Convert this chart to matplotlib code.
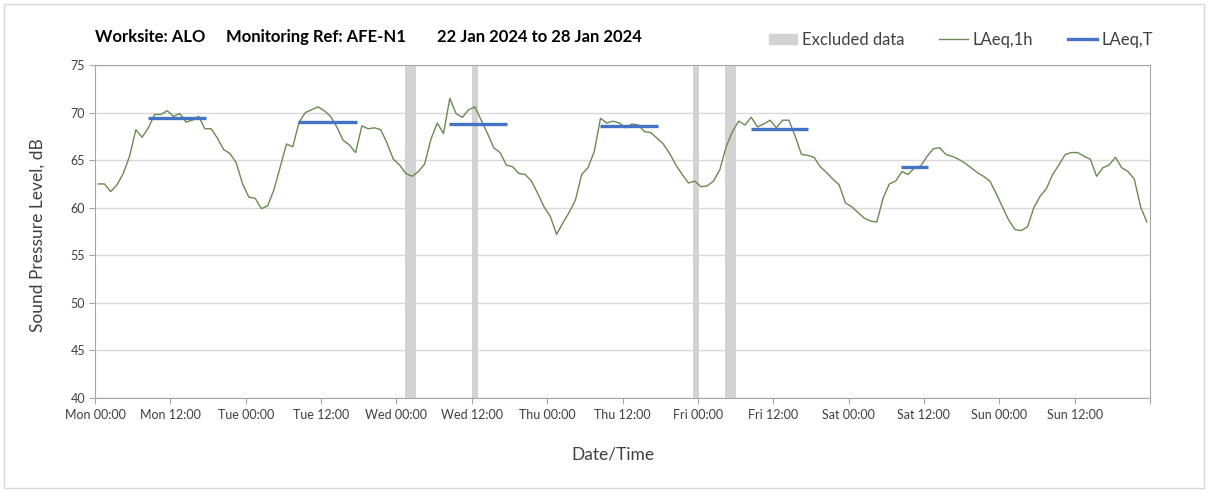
import matplotlib
matplotlib.use("Agg")
import matplotlib.pyplot as plt
from matplotlib.patches import Patch, Rectangle
from matplotlib.lines import Line2D
import numpy as np

plt.rcParams['font.family'] = ['Lato', 'DejaVu Sans']

# hourly LAeq,1h values, Mon 00:00 - Sun 24:00 (plotted at mid-hour)
laeq_1h = [
    62.5, 62.5, 61.7, 62.4, 63.6, 65.4, 68.2, 67.4, 68.4, 69.8, 69.8, 70.2,
    69.6, 69.9, 69.0, 69.2, 69.6, 68.3, 68.3, 67.3, 66.1, 65.7, 64.7, 62.5,
    61.1, 61.0, 59.9, 60.2, 61.9, 64.3, 66.7, 66.4, 69.0, 70.0, 70.3, 70.6,
    70.2, 69.6, 68.5, 67.1, 66.6, 65.8, 68.6, 68.3, 68.4, 68.2, 66.8, 65.1,
    64.5, 63.6, 63.3, 63.8, 64.6, 67.2, 68.9, 67.8, 71.5, 69.9, 69.5, 70.3,
    70.6, 69.2, 67.8, 66.3, 65.8, 64.5, 64.3, 63.6, 63.5, 62.8, 61.5, 60.1,
    59.1, 57.2, 58.4, 59.5, 60.8, 63.5, 64.2, 65.9, 69.4, 68.9, 69.1, 68.9,
    68.4, 68.8, 68.7, 68.0, 67.9, 67.3, 66.7, 65.7, 64.5, 63.5, 62.6, 62.8,
    62.2, 62.3, 62.8, 64.0, 66.4, 68.0, 69.1, 68.7, 69.5, 68.5, 68.8, 69.2,
    68.4, 69.2, 69.2, 67.5, 65.6, 65.5, 65.3, 64.3, 63.7, 63.0, 62.4, 60.5,
    60.1, 59.5, 58.9, 58.6, 58.5, 61.0, 62.5, 62.8, 63.8, 63.5, 64.2, 64.4,
    65.4, 66.2, 66.3, 65.6, 65.4, 65.1, 64.7, 64.2, 63.7, 63.3, 62.8, 61.5,
    60.1, 58.7, 57.7, 57.6, 58.0, 60.0, 61.2, 62.0, 63.5, 64.5, 65.6, 65.8,
    65.8, 65.4, 65.1, 63.3, 64.2, 64.5, 65.3, 64.2, 63.8, 63.0, 60.1, 58.5,
]
hours = np.arange(len(laeq_1h)) + 0.5

# LAeq,T periods (hours from Mon 00:00) and levels
laeq_t_start = [8.4, 32.4, 56.4, 80.4, 104.4, 128.3]
laeq_t_end = [17.7, 41.8, 65.6, 89.7, 113.6, 132.7]
laeq_t = [69.45, 69.05, 68.85, 68.6, 68.3, 64.3]

# excluded periods
excl_start = [49.3, 60.1, 95.2, 100.3]
excl_end = [51.1, 61.0, 96.2, 102.1]

days = ['Mon', 'Tue', 'Wed', 'Thu', 'Fri', 'Sat', 'Sun']
tick_labels = []
for d in days:
    tick_labels += [d + ' 00:00', d + ' 12:00']
tick_labels.append('')

green = '#6a8a52'
blue = '#4472c4'
txt = '#404040'

fig = plt.figure(figsize=(12.08, 4.92), dpi=100)
ax = fig.add_axes([95/1208, 1-398/492, 1055/1208, 333/492])

for s, e in zip(excl_start, excl_end):
    ax.axvspan(s, e, color='#d3d3d3', lw=0, zorder=1)

ax.plot(hours, laeq_1h, color=green, lw=1.0, zorder=3)
for s, e, v in zip(laeq_t_start, laeq_t_end, laeq_t):
    ax.plot([s, e], [v, v], color=blue, lw=2.4, solid_capstyle='butt', zorder=4)

ax.set_xlim(0, 168)
ax.set_ylim(40, 75)
ax.set_yticks(range(40, 76, 5))
ax.set_xticks(range(0, 169, 12))
ax.set_xticklabels(tick_labels)
ax.set_xticks(range(0, 169, 24), minor=True)
ax.tick_params(axis='x', which='major', length=4, color='#a6a6a6', labelsize=9, labelcolor=txt, pad=4)
ax.tick_params(axis='x', which='minor', length=0)
ax.tick_params(axis='y', length=4, color='#a6a6a6', labelsize=9, labelcolor=txt, pad=3)
ax.grid(True, which='minor', axis='x', color='#d9d9d9', lw=1)
ax.grid(True, which='major', axis='y', color='#d9d9d9', lw=1)
ax.set_axisbelow(True)
for sp in ax.spines.values():
    sp.set_color('#a6a6a6')

fig.text(38/1208, 1-235/492, 'Sound Pressure Level, dB', fontsize=12.5, color=txt,
         rotation=90, ha='center', va='center')
fig.text(613/1208, 1-455/492, 'Date/Time', fontsize=12.5, color=txt, ha='center', va='center')

# title pieces
fig.text(95/1208, 1-37/492, 'Worksite: ALO', fontsize=12, fontweight='bold', va='center')
fig.text(226/1208, 1-37/492, 'Monitoring Ref: AFE-N1', fontsize=12, fontweight='bold', va='center')
fig.text(437/1208, 1-37/492, '22 Jan 2024 to 28 Jan 2024', fontsize=12, fontweight='bold', va='center')

handles = [Patch(color='#d3d3d3', label='Excluded data'),
           Line2D([], [], color=green, lw=1.0, label='LAeq,1h'),
           Line2D([], [], color=blue, lw=2.4, label='LAeq,T')]
fig.legend(handles=handles, ncol=3, loc='center right', bbox_to_anchor=(1168/1208, 1-40/492),
           frameon=False, fontsize=12, handlelength=1.7, handleheight=0.6,
           handletextpad=0.3, columnspacing=2.1, labelcolor=txt)

fig.patches.append(Rectangle((4/1208, 4/492), 1200/1208, 484/492, transform=fig.transFigure,
                             fill=False, edgecolor='#d9d9d9', lw=1))

fig.savefig('out.png', dpi=100)
